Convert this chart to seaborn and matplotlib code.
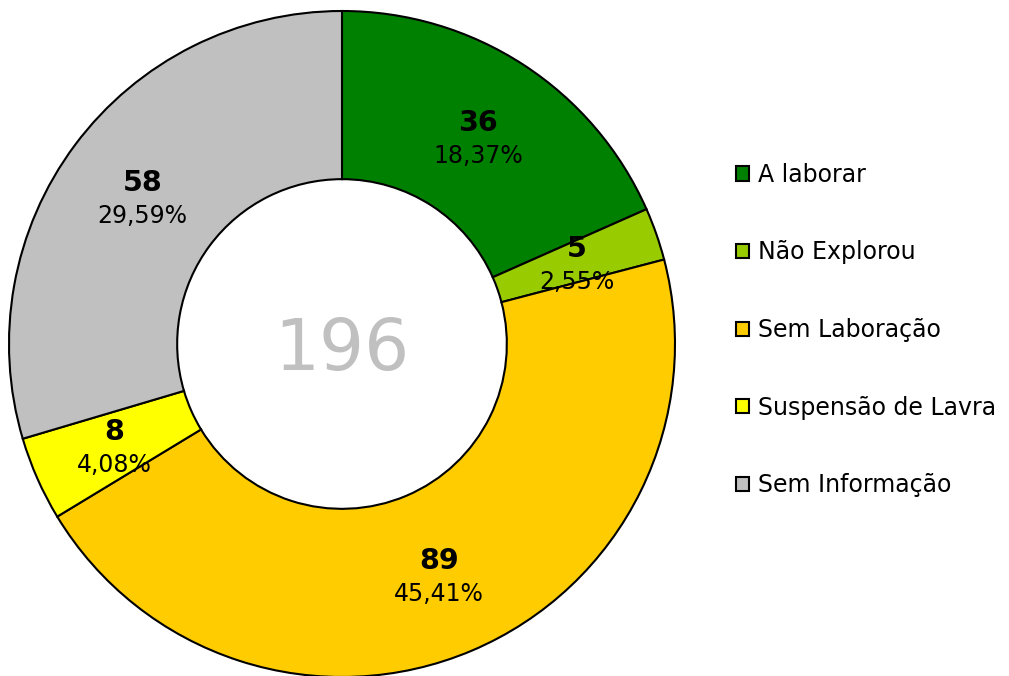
import numpy as np
import matplotlib
matplotlib.use("Agg")
import matplotlib.pyplot as plt
import seaborn as sns

# dados do gráfico
categorias = ["A laborar", "Não Explorou", "Sem Laboração", "Suspensão de Lavra", "Sem Informação"]
valores = [36, 5, 89, 8, 58]
cores = ["#008000", "#99CC00", "#FFCC00", "#FFFF00", "#C0C0C0"]

sns.set_theme(style="white")
plt.rcParams["font.family"] = ["DejaVu Sans"]

fig = plt.figure(figsize=(10.09, 6.76), dpi=100)
W, H = 1009, 676
cx, cy, R = 342, 344, 333
ax = fig.add_axes([(cx - R) / W, (H - cy - R) / H, 2 * R / W, 2 * R / H])

wedges, _ = ax.pie(valores, colors=cores, startangle=90, counterclock=False,
                   radius=1.0,
                   wedgeprops=dict(width=0.505, edgecolor="black", linewidth=1.5))
for w in wedges:
    w.set_clip_on(False)
# pie muda os limites, repor
ax.set_xlim(-1, 1)
ax.set_ylim(-1, 1)
ax.set_aspect("equal")
ax.axis("off")

total = sum(valores)
off = 16.5 / R
down = 4 / R
for w, v in zip(wedges, valores):
    ang = np.deg2rad((w.theta1 + w.theta2) / 2)
    x, y = 0.748 * np.cos(ang), 0.748 * np.sin(ang) - down
    pct = f"{v / total * 100:.2f}%".replace(".", ",")
    ax.text(x, y + off, str(v), ha="center", va="center", fontsize=20.5,
            fontweight="bold", color="black")
    ax.text(x, y - off, pct, ha="center", va="center", fontsize=17,
            color="black")

ax.text(0, -0.02, str(total), ha="center", va="center", fontsize=51, color="#C0C0C0")

leg = fig.legend(wedges, categorias, loc="center left",
                 bbox_to_anchor=(715 / W, (H - 330) / H), frameon=False,
                 fontsize=17, handlelength=0.55, handleheight=0.55,
                 handletextpad=0.35, labelspacing=2.27, labelcolor="black")

fig.savefig("out.png", dpi=100, facecolor="white")
